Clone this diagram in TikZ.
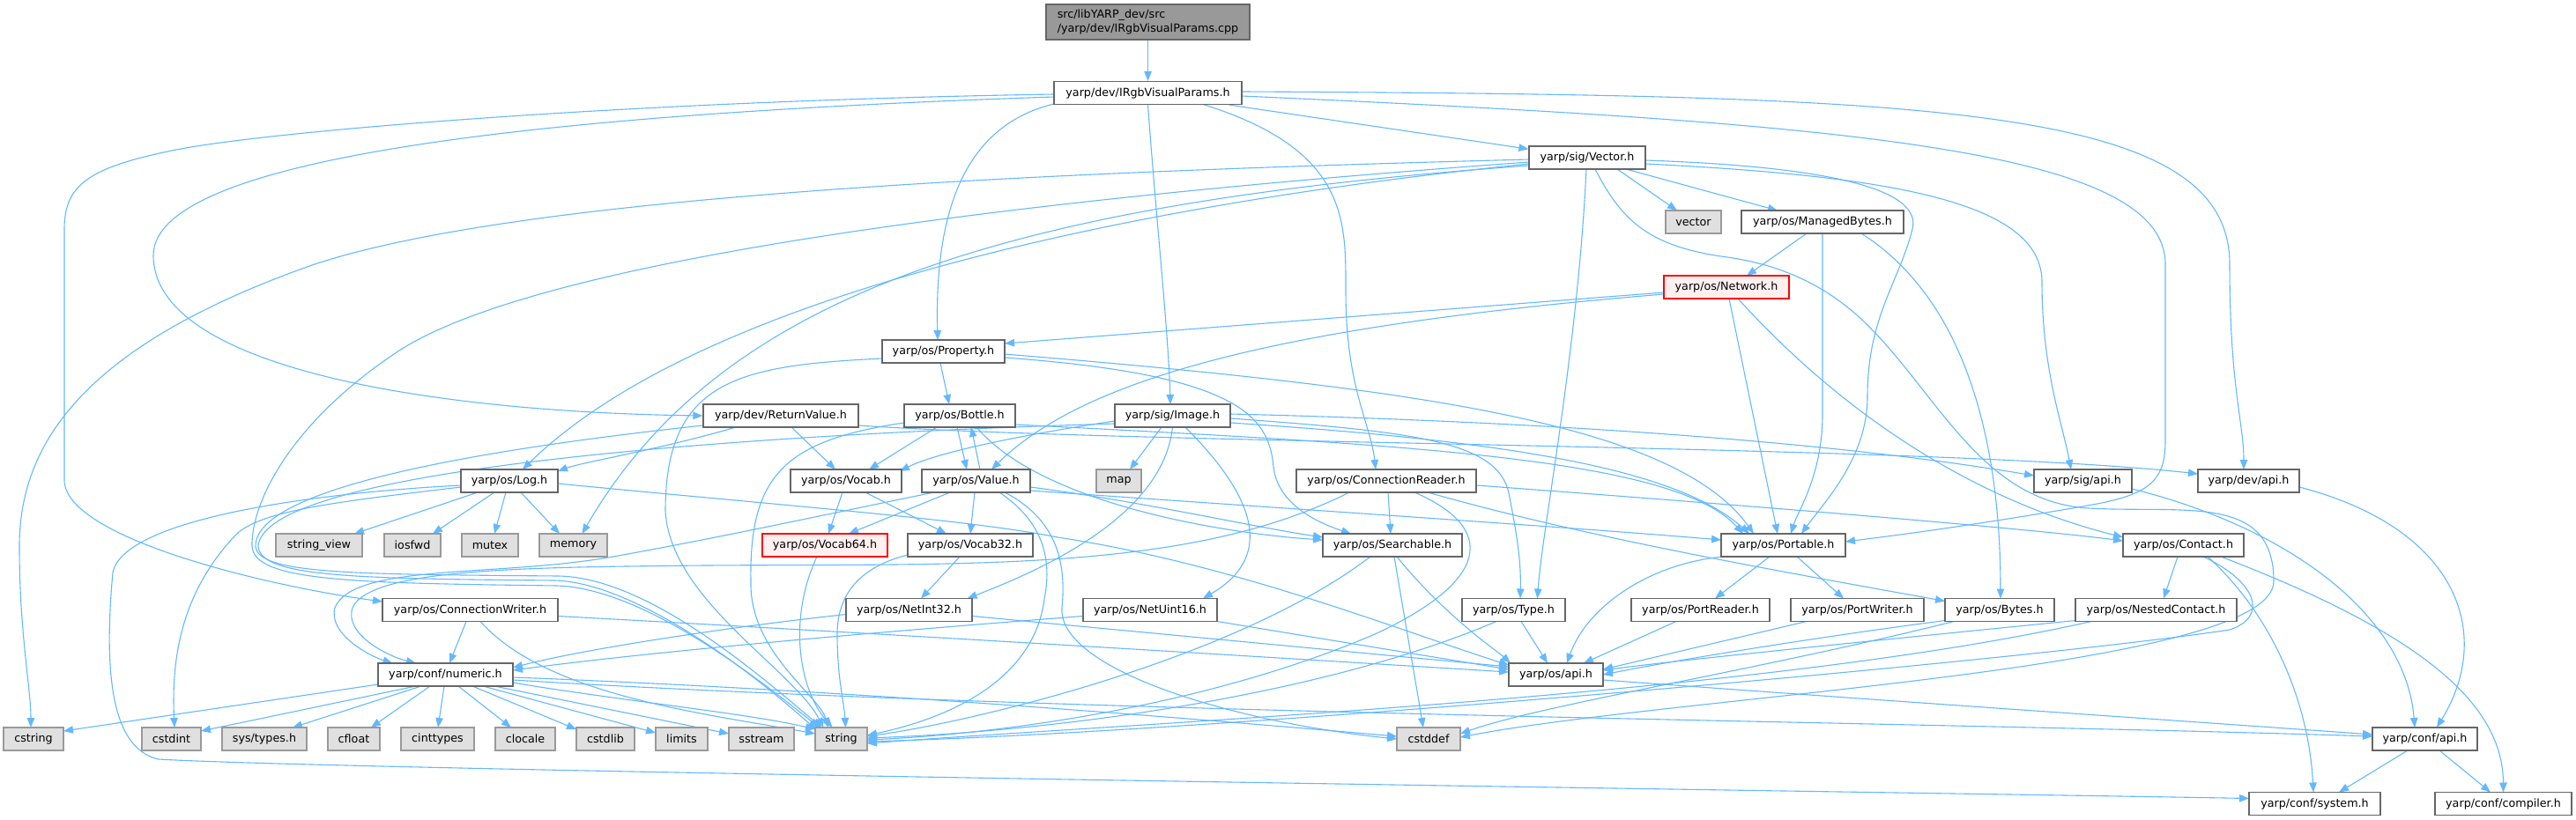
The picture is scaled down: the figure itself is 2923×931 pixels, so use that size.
\documentclass[tikz,border=0pt]{standalone}
\usepackage{fontspec}
\setmainfont{DejaVu Sans}
\usetikzlibrary{arrows.meta,calc}
\definecolor{ec}{HTML}{63B8FF}
\definecolor{nbc}{HTML}{666666}
\definecolor{gbc}{HTML}{999999}
\definecolor{gfc}{HTML}{E0E0E0}
\definecolor{rfc}{HTML}{FFF0F0}
\definecolor{rootc}{HTML}{999999}
\pgfdeclarelayer{bg}
\pgfsetlayers{bg,main}
\begin{document}
\begin{tikzpicture}[x=1pt,y=-1pt,
  box/.style={draw=nbc, fill=white, line width=1.2pt, minimum height=26pt, inner sep=0pt, font=\fontsize{12.7}{15.5}\selectfont, text=black},
  gbox/.style={box, draw=gbc, fill=gfc},
  rbox/.style={box, draw=red, fill=rfc},
  wd/.style={minimum width=#1pt},
  edg/.style={draw=ec, line width=1.1pt, -{Triangle[length=11pt,width=8.5pt]}}]
\useasboundingbox (0,0) rectangle (2923,931);
% nodes
\node[box,fill=rootc,wd=231,minimum height=40pt,align=left] (cpp) at (1302.5,25) {src/libYARP\_dev/src\\/yarp/dev/IRgbVisualParams.cpp};
\node[box,wd=213] (IRgb) at (1302.5,105.5) {yarp/dev/IRgbVisualParams.h};
\node[box,wd=132] (Vector) at (1801,179) {yarp/sig/Vector.h};
\node[gbox,wd=63] (vectorstd) at (1921.5,252) {vector};
\node[box,wd=184] (MB) at (2068,252) {yarp/os/ManagedBytes.h};
\node[rbox,wd=142] (Network) at (1959,326) {yarp/os/Network.h};
\node[box,wd=139] (Property) at (1070.5,399) {yarp/os/Property.h};
\node[box,wd=176] (RV) at (886,472) {yarp/dev/ReturnValue.h};
\node[box,wd=126] (Bottle) at (1089,472) {yarp/os/Bottle.h};
\node[box,wd=131] (Image) at (1330.5,472) {yarp/sig/Image.h};
\node[box,wd=110] (Log) at (578,546) {yarp/os/Log.h};
\node[box,wd=126] (Vocab) at (960,546) {yarp/os/Vocab.h};
\node[box,wd=123] (Value) at (1107.5,546) {yarp/os/Value.h};
\node[gbox,wd=51] (map) at (1269.5,546) {map};
\node[box,wd=204] (CR) at (1573,546) {yarp/os/ConnectionReader.h};
\node[box,wd=111] (sigapi) at (2363.5,546) {yarp/sig/api.h};
\node[box,wd=115] (devapi) at (2551.5,546) {yarp/dev/api.h};
\node[gbox,wd=98] (sv) at (362,619) {string\_view};
\node[gbox,wd=64] (iosfwd) at (468,619) {iosfwd};
\node[gbox,wd=64] (mutex) at (556,619) {mutex};
\node[gbox,wd=77] (memory) at (650.5,619) {memory};
\node[rbox,wd=142] (V64) at (936,619) {yarp/os/Vocab64.h};
\node[box,wd=142] (V32) at (1101,619) {yarp/os/Vocab32.h};
\node[box,wd=158] (Search) at (1580,619) {yarp/os/Searchable.h};
\node[box,wd=141] (Portable) at (2023.5,619) {yarp/os/Portable.h};
\node[box,wd=137] (Contact) at (2477.5,619) {yarp/os/Contact.h};
\node[box,wd=199] (CW) at (533.5,692.5) {yarp/os/ConnectionWriter.h};
\node[box,wd=143] (NI32) at (1031.5,692.5) {yarp/os/NetInt32.h};
\node[box,wd=152] (NU16) at (1305,692.5) {yarp/os/NetUint16.h};
\node[box,wd=117] (Type) at (1717.5,692.5) {yarp/os/Type.h};
\node[box,wd=157] (PR) at (1929.5,692.5) {yarp/os/PortReader.h};
\node[box,wd=151] (PW) at (2107.5,692.5) {yarp/os/PortWriter.h};
\node[box,wd=124] (Bytes) at (2269,692.5) {yarp/os/Bytes.h};
\node[box,wd=183] (NC) at (2446.5,692.5) {yarp/os/NestedContact.h};
\node[box,wd=153] (numeric) at (505.5,766) {yarp/conf/numeric.h};
\node[box,wd=107] (osapi) at (1765.5,766) {yarp/os/api.h};
\node[gbox,wd=68] (cstring) at (38,839) {cstring};
\node[gbox,wd=67] (cstdint) at (194.5,839) {cstdint};
\node[gbox,wd=96] (systypes) at (300,839) {sys/types.h};
\node[gbox,wd=59] (cfloat) at (401.5,839) {cfloat};
\node[gbox,wd=83] (cinttypes) at (496.5,839) {cinttypes};
\node[gbox,wd=68] (clocale) at (596,839) {clocale};
\node[gbox,wd=66] (cstdlib) at (687,839) {cstdlib};
\node[gbox,wd=59] (limits) at (773.5,839) {limits};
\node[gbox,wd=74] (sstream) at (864,839) {sstream};
\node[gbox,wd=59] (string) at (954.5,839) {string};
\node[gbox,wd=72] (cstddef) at (1621,839) {cstddef};
\node[box,wd=119] (confapi) at (2751.5,839) {yarp/conf/api.h};
\node[box,wd=149] (system) at (2626.5,912.5) {yarp/conf/system.h};
\node[box,wd=155] (compiler) at (2840.5,912.5) {yarp/conf/compiler.h};
% edges
\begin{pgfonlayer}{bg}
\draw[edg] (cpp.south) -- (IRgb.north);
% IRgb
\draw[edg] (IRgb) -- (Vector);
\draw[edg] ($(IRgb)+(-104.5,12)$) .. controls (1100,140) and (1060,230) .. ($(Property)+(-6.5,-13)$);
\draw[edg] (IRgb.south) .. controls (1312,250) and (1326,380) .. ($(Image)+(-2.5,-13)$);
\draw[edg] ($(IRgb)+(62.5,13)$) .. controls (1530,170) and (1527,250) .. (1527,330) .. controls (1527,440) and (1555,480) .. ($(CR)+(-12,-13)$);
\draw[edg] ($(IRgb)+(-106.5,4.5)$) .. controls (600,130) and (174,180) .. (174,290) .. controls (174,420) and (500,468) .. (RV.west);
\draw[edg] ($(IRgb)+(-106.5,1.5)$) .. controls (700,115) and (300,150) .. (200,170) .. controls (100,190) and (73,210) .. (73,260) -- (73,545) .. controls (73,610) and (300,665) .. ($(CW)+(-99.5,-9.5)$);
\draw[edg] ($(IRgb)+(106.5,-1.5)$) .. controls (2200,108) and (2530,120) .. (2530,300) .. controls (2530,440) and (2546,480) .. ($(devapi)+(-5.5,-13)$);
\draw[edg] ($(IRgb)+(106.5,3.5)$) .. controls (2100,140) and (2457,170) .. (2457,300) -- (2457,500) .. controls (2457,545) and (2440,560) .. (2380,572) .. controls (2250,595) and (2150,608) .. ($(Portable)+(70.5,-4)$);
% Vector
\draw[edg] ($(Vector)+(34,13)$) -- ($(vectorstd)+(-18.5,-13)$);
\draw[edg] ($(Vector)+(44,13)$) -- ($(MB)+(-51,-13)$);
\draw[edg] ($(Vector)+(-66,2)$) .. controls (1200,195) and (600,220) .. (357,300) .. controls (100,390) and (22,500) .. (22,620) .. controls (22,720) and (35,780) .. ($(cstring)+(-3,-13)$);
\draw[edg] ($(Vector)+(-66,5)$) .. controls (1100,230) and (600,300) .. (450,400) .. controls (330,480) and (285,570) .. (286,620) .. controls (288,660) and (400,662) .. (632,665) .. controls (730,668) and (860,770) .. ($(string)+(-25,-13)$);
\draw[edg] ($(Vector)+(-66,7)$) .. controls (1300,230) and (800,330) .. ($(Log)+(15,-13)$);
\draw[edg] ($(Vector)+(-66,9)$) .. controls (1150,230) and (820,330) .. ($(memory)+(10,-13)$);
\draw[edg] ($(Vector)+(-1,13)$) .. controls (1790,400) and (1750,600) .. ($(Type)+(27,-13)$);
\draw[edg] ($(Vector)+(66,7)$) .. controls (2150,200) and (2317,230) .. (2317,320) .. controls (2317,420) and (2340,480) .. ($(sigapi)+(-13.5,-13)$);
\draw[edg] ($(Vector)+(66,3)$) .. controls (2100,190) and (2180,220) .. (2170,260) .. controls (2155,320) and (2119,360) .. (2119,450) .. controls (2119,520) and (2070,570) .. ($(Portable)+(20.5,-13)$);
\draw[edg] ($(Vector)+(9,13)$) .. controls (1840,250) and (1870,280) .. (1960,292) .. controls (2030,302) and (2080,330) .. (2120,370) .. controls (2200,450) and (2250,570) .. (2370,577) .. controls (2480,583) and (2580,560) .. (2580,660) .. controls (2580,760) and (1900,790) .. ($(cstddef)+(36,-2)$);
% ManagedBytes
\draw[edg] ($(MB)+(-18,13)$) -- ($(Network)+(23,-13)$);
\draw[edg] ($(MB)+(0,13)$) -- (2068,470) .. controls (2068,540) and (2040,580) .. ($(Portable)+(8.5,-13)$);
\draw[edg] ($(MB)+(44,13)$) .. controls (2230,340) and (2270,500) .. ($(Bytes)+(1,-13)$);
% Network
\draw[edg] ($(Network)+(-71,6)$) -- ($(Property)+(69.5,-9)$);
\draw[edg] ($(Network)+(-71,8)$) .. controls (1450,370) and (1230,430) .. ($(Value)+(17.5,-13)$);
\draw[edg] ($(Network)+(3,13)$) -- ($(Portable)+(-6.5,-13)$);
\draw[edg] ($(Network)+(13,13)$) .. controls (2100,480) and (2250,570) .. ($(Contact)+(-68.5,-9)$);
% Property
\draw[edg] ($(Property)+(-3.5,13)$) -- ($(Bottle)+(-12,-13)$);
\draw[edg] ($(Property)+(69.5,3)$) .. controls (1600,440) and (1900,480) .. ($(Portable)+(-33.5,-13)$);
\draw[edg] ($(Property)+(69.5,7)$) .. controls (1400,425) and (1440,470) .. (1445,530) .. controls (1450,575) and (1500,595) .. ($(Search)+(-47,-13)$);
\draw[edg] ($(Property)+(-69.5,8)$) .. controls (840,415) and (755,430) .. (755,580) .. controls (760,680) and (900,760) .. ($(string)+(-20,-13)$);
% Bottle
\draw[edg] ($(Bottle)+(-3,13)$) -- ($(Value)+(-10.5,-13)$);
\draw[edg] ($(Bottle)+(-26,13)$) -- ($(Vocab)+(26,-13)$);
\draw[edg] ($(Bottle)+(19,13)$) .. controls (1180,570) and (1380,605) .. ($(Search)+(-79,-6)$);
\draw[edg] ($(Bottle)+(63,10)$) .. controls (1600,505) and (1900,520) .. ($(Portable)+(-45.5,-13)$);
\draw[edg] ($(Bottle)+(-63,8)$) .. controls (890,500) and (850,540) .. (852,660) .. controls (850,740) and (930,790) .. ($(string)+(-15,-13)$);
% Value
\draw[edg] ($(Value)+(4.5,-13)$) -- ($(Bottle)+(13,13)$);
\draw[edg] ($(Value)+(-1.5,13)$) -- ($(V32)+(0,-13)$);
\draw[edg] ($(Value)+(-29.5,13)$) -- ($(V64)+(27,-13)$);
\draw[edg] ($(Value)+(61.5,7)$) .. controls (1300,570) and (1420,598) .. ($(Search)+(-79,-9)$);
\draw[edg] ($(Value)+(61.5,11)$) .. controls (1500,580) and (1800,600) .. ($(Portable)+(-70.5,-6)$);
\draw[edg] ($(Value)+(-47.5,13)$) .. controls (980,575) and (820,610) .. (690,633) .. controls (560,655) and (400,640) .. (380,690) .. controls (372,720) and (420,745) .. ($(numeric)+(-60,-13)$);
\draw[edg] ($(Value)+(26.5,13)$) .. controls (1180,590) and (1195,630) .. (1185,680) .. controls (1175,760) and (1100,810) .. ($(string)+(29.5,-4)$);
\draw[edg] ($(Value)+(32.5,13)$) .. controls (1200,590) and (1210,640) .. (1205,690) .. controls (1200,760) and (1400,820) .. ($(cstddef)+(-36,0)$);
% Vocab
\draw[edg] ($(Vocab)+(-4,13)$) -- ($(V64)+(4,-13)$);
\draw[edg] ($(Vocab)+(22,13)$) -- ($(V32)+(-27,-13)$);
\draw[edg] ($(V64)+(-9,13)$) .. controls (895,700) and (905,780) .. ($(string)+(-10,-13)$);
\draw[edg] ($(V32)+(-12,13)$) -- ($(NI32)+(13.5,-13)$);
\draw[edg] ($(V32)+(-71,11)$) .. controls (970,645) and (950,680) .. (950,720) .. controls (950,770) and (958,800) .. ($(string)+(5,-13)$);
% Image
\draw[edg] ($(Image)+(-12.5,13)$) -- ($(map)+(12.5,-13)$);
\draw[edg] ($(Image)+(-65.5,6)$) .. controls (1150,495) and (1060,515) .. ($(Vocab)+(61,-11)$);
\draw[edg] ($(Image)+(-65.5,9)$) .. controls (800,495) and (300,535) .. (293,620) .. controls (295,655) and (400,657) .. (630,659) .. controls (720,662) and (850,760) .. ($(string)+(-28,-10)$);
\draw[edg] ($(Image)+(0,13)$) .. controls (1320,580) and (1200,640) .. ($(NI32)+(66,-13)$);
\draw[edg] ($(Image)+(14.5,13)$) .. controls (1420,560) and (1450,630) .. ($(NU16)+(60,-13)$);
\draw[edg] ($(Image)+(65.5,3)$) .. controls (1600,490) and (1700,500) .. (1712,560) .. controls (1722,610) and (1726,640) .. ($(Type)+(7.5,-13)$);
\draw[edg] ($(Image)+(65.5,8)$) .. controls (1700,500) and (1900,530) .. ($(Portable)+(-38.5,-13)$);
\draw[edg] ($(Image)+(65.5,-2)$) .. controls (1800,480) and (2100,505) .. ($(sigapi)+(-55.5,-6)$);
% ReturnValue
\draw[edg] ($(RV)+(-51,13)$) .. controls (750,510) and (660,525) .. ($(Log)+(55,-11)$);
\draw[edg] ($(RV)+(12,13)$) -- ($(Vocab)+(-12,-13)$);
\draw[edg] ($(RV)+(-88,11)$) .. controls (500,515) and (290,560) .. (290,620) .. controls (292,652) and (400,652) .. (634,654) .. controls (735,656) and (860,765) .. ($(string)+(-22,-13)$);
\draw[edg] ($(RV)+(88,11)$) .. controls (1300,505) and (2200,505) .. ($(devapi)+(-57.5,-8)$);
% Log
\draw[edg] ($(Log)+(-36,13)$) -- ($(sv)+(40,-13)$);
\draw[edg] ($(Log)+(-17,13)$) -- ($(iosfwd)+(23,-13)$);
\draw[edg] ($(Log)+(-4,13)$) -- ($(mutex)+(5,-13)$);
\draw[edg] ($(Log)+(13,13)$) -- ($(memory)+(-15.5,-13)$);
\draw[edg] ($(Log)+(55,3)$) .. controls (900,575) and (1100,590) .. (1200,610) .. controls (1400,640) and (1600,720) .. ($(osapi)+(-53.5,-11)$);
\draw[edg] ($(Log)+(-55,7)$) .. controls (380,570) and (290,580) .. (265,610) .. controls (200,680) and (195,760) .. ($(cstdint)+(3.5,-13)$);
\draw[edg] ($(Log)+(-55,5)$) .. controls (350,560) and (140,590) .. (128,650) .. controls (118,760) and (125,850) .. (180,862) .. controls (400,875) and (2200,900) .. ($(system)+(-74.5,-6)$);
% ConnectionReader
\draw[edg] ($(CR)+(2,13)$) -- ($(Search)+(-2,-13)$);
\draw[edg] ($(CR)+(-42,13)$) .. controls (1350,650) and (1100,640) .. (800,642) .. controls (600,644) and (420,645) .. (400,690) .. controls (390,720) and (440,745) .. ($(numeric)+(-33.5,-13)$);
\draw[edg] ($(CR)+(102,5)$) .. controls (2000,575) and (2300,600) .. ($(Contact)+(-68.5,-5)$);
\draw[edg] ($(CR)+(47,13)$) .. controls (1800,610) and (2000,645) .. ($(Bytes)+(-62,-10)$);
\draw[edg] ($(CR)+(32,13)$) .. controls (1700,600) and (1690,660) .. (1560,720) .. controls (1350,810) and (1100,835) .. ($(string)+(29.5,1)$);
% Searchable
\draw[edg] ($(Search)+(-25,13)$) .. controls (1400,750) and (1100,820) .. ($(string)+(29.5,-3)$);
\draw[edg] ($(Search)+(2,13)$) -- ($(cstddef)+(-6,-13)$);
\draw[edg] ($(Search)+(5,13)$) .. controls (1640,700) and (1700,740) .. ($(osapi)+(-51.5,-13)$);
% Portable
\draw[edg] ($(Portable)+(-15.5,13)$) -- ($(PR)+(16.5,-13)$);
\draw[edg] ($(Portable)+(15.5,13)$) -- ($(PW)+(-15.5,-13)$);
\draw[edg] ($(Portable)+(-68,13)$) .. controls (1870,640) and (1800,690) .. ($(osapi)+(12.5,-13)$);
% Contact
\draw[edg] ($(Contact)+(-6.5,13)$) -- ($(NC)+(8.5,-13)$);
\draw[edg] ($(Contact)+(27.5,13)$) .. controls (2580,700) and (2620,800) .. ($(system)+(-1.5,-13)$);
\draw[edg] ($(Contact)+(42.5,13)$) .. controls (2750,720) and (2840,800) .. ($(compiler)+(0,-13)$);
\draw[edg] ($(Contact)+(22.5,13)$) .. controls (2560,660) and (2575,700) .. (2530,715) .. controls (2300,750) and (1400,830) .. ($(string)+(29.5,3)$);
% NestedContact, Bytes, PortWriter, PortReader
\draw[edg] ($(NC)+(-91.5,12)$) .. controls (2100,730) and (1900,750) .. ($(osapi)+(53.5,-5)$);
\draw[edg] ($(NC)+(-73.5,13)$) .. controls (2000,790) and (1300,820) .. ($(string)+(29.5,5)$);
\draw[edg] ($(Bytes)+(-62,12)$) .. controls (2050,725) and (1900,750) .. ($(osapi)+(53.5,0)$);
\draw[edg] ($(Bytes)+(-52,13)$) .. controls (2000,760) and (1750,800) .. ($(cstddef)+(36,-6)$);
\draw[edg] ($(PW)+(-57.5,13)$) -- ($(osapi)+(53.5,-6)$);
\draw[edg] ($(PR)+(-27.5,13)$) -- ($(osapi)+(31.5,-13)$);
% ConnectionWriter
\draw[edg] ($(CW)+(-4.5,13)$) -- ($(numeric)+(4.5,-13)$);
\draw[edg] ($(CW)+(11.5,13)$) .. controls (620,790) and (800,810) .. ($(string)+(-29.5,-6)$);
\draw[edg] ($(CW)+(99.5,7)$) .. controls (1100,725) and (1500,750) .. ($(osapi)+(-53.5,-3)$);
% NetInt32, NetUint16, Type
\draw[edg] ($(NI32)+(-71.5,5)$) .. controls (800,715) and (650,740) .. ($(numeric)+(76.5,-8)$);
\draw[edg] ($(NI32)+(71.5,7)$) -- ($(osapi)+(-53.5,-9)$);
\draw[edg] ($(NU16)+(-76,7)$) .. controls (900,725) and (700,745) .. ($(numeric)+(76.5,-5)$);
\draw[edg] ($(NU16)+(76,13)$) -- ($(osapi)+(-53.5,-6)$);
\draw[edg] ($(Type)+(8.5,13)$) -- ($(osapi)+(-9.5,-13)$);
\draw[edg] ($(Type)+(-19.5,13)$) .. controls (1500,790) and (1200,830) .. ($(string)+(29.5,-1)$);
% numeric
\draw[edg] ($(numeric)+(-76.5,11)$) -- ($(cstring)+(34,-9)$);
\draw[edg] ($(numeric)+(-33.5,13)$) -- ($(cstdint)+(33.5,-9)$);
\draw[edg] ($(numeric)+(-27.5,13)$) -- ($(systypes)+(32,-13)$);
\draw[edg] ($(numeric)+(-17.5,13)$) -- ($(cfloat)+(19.5,-13)$);
\draw[edg] ($(numeric)+(-1.5,13)$) -- ($(cinttypes)+(0.5,-13)$);
\draw[edg] ($(numeric)+(14.5,13)$) -- ($(clocale)+(-16,-13)$);
\draw[edg] ($(numeric)+(30.5,13)$) -- ($(cstdlib)+(-33,-11)$);
\draw[edg] ($(numeric)+(42.5,13)$) -- ($(limits)+(-29.5,-7)$);
\draw[edg] ($(numeric)+(55.5,13)$) -- ($(sstream)+(-37,-6)$);
\draw[edg] ($(numeric)+(76.5,9)$) .. controls (700,795) and (850,810) .. ($(string)+(-29.5,-11)$);
\draw[edg] ($(numeric)+(76.5,3)$) .. controls (1000,785) and (1400,820) .. ($(cstddef)+(-36,-3)$);
\draw[edg] ($(numeric)+(76.5,6)$) .. controls (1200,810) and (2200,820) .. ($(confapi)+(-59.5,-3)$);
% api headers
\draw[edg] ($(osapi)+(53.5,6)$) .. controls (2200,800) and (2500,820) .. ($(confapi)+(-59.5,-5)$);
\draw[edg] ($(confapi)+(-19.5,13)$) -- ($(system)+(27.5,-13)$);
\draw[edg] ($(confapi)+(16.5,13)$) -- ($(compiler)+(-14.5,-13)$);
\draw[edg] ($(sigapi)+(55.5,9)$) .. controls (2600,600) and (2730,700) .. ($(confapi)+(-11.5,-13)$);
\draw[edg] ($(devapi)+(57.5,7)$) .. controls (2790,600) and (2830,720) .. ($(confapi)+(13.5,-13)$);
\end{pgfonlayer}
\end{tikzpicture}
\end{document}
